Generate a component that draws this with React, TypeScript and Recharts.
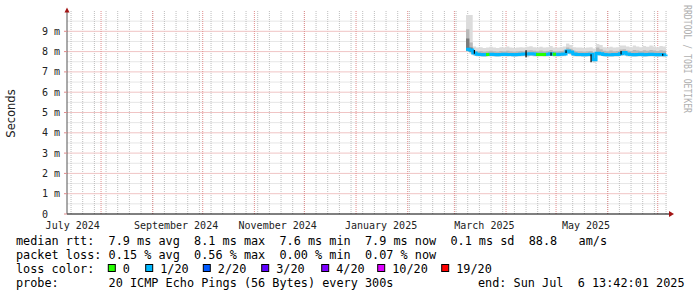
import React from "react";
import {
  ComposedChart,
  Area,
  Line,
  XAxis,
  YAxis,
  CartesianGrid,
  ReferenceLine,
  ReferenceDot,
} from "recharts";

// samples every 2 days (2025), smokeping year view
const dates = [
  "03-08", "03-10", "03-12", "03-14", "03-16", "03-18", "03-20", "03-22", "03-24", "03-26", "03-28", "03-30",
  "04-01", "04-03", "04-05", "04-07", "04-09", "04-11", "04-13", "04-15", "04-17", "04-19", "04-21", "04-23", "04-25", "04-27", "04-29",
  "05-01", "05-03", "05-05", "05-07", "05-09", "05-11", "05-13", "05-15", "05-17", "05-19", "05-21", "05-23", "05-25", "05-27", "05-29", "05-31",
  "06-02", "06-04", "06-06", "06-08", "06-10", "06-12", "06-14", "06-16", "06-18", "06-20", "06-22", "06-24", "06-26", "06-28", "06-30",
  "07-02", "07-04", "07-06",
];

// median rtt in ms
const median = [
  8.12, 8.08, 7.93, 7.87, 7.86, 7.85, 7.86, 7.87, 7.86, 7.85, 7.86, 7.87,
  7.86, 7.86, 7.85, 7.86, 7.87, 7.88, 7.88, 7.9, 7.88, 7.86, 7.87, 7.86, 7.87, 7.9, 7.87,
  7.86, 7.87, 7.88, 8.03, 7.98, 7.88, 7.86, 7.86, 7.85, 7.86, 7.87, 7.6, 7.92, 7.9, 7.86, 7.85,
  7.85, 7.86, 7.86, 7.9, 7.95, 7.88, 7.86, 7.85, 7.86, 7.87, 7.85, 7.86, 7.87, 7.86, 7.85,
  7.86, 7.84, 7.86,
];

// lost pings out of 20
const loss = [
  1, 1, 1, 1, 1, 1, 0, 1, 1, 1, 1, 1,
  1, 1, 1, 1, 1, 1, 1, 1, 1, 0, 1, 0, 1, 1, 0,
  1, 1, 1, 1, 1, 1, 1, 1, 1, 1, 1, 1, 1, 1, 1, 1,
  1, 1, 1, 1, 1, 1, 1, 1, 1, 1, 1, 1, 1, 1, 1,
  1, 1, 1,
];

// smoke: outer band (min/max ping) and mid band
const smokeHi = [
  9.8, 9.8, 8.25, 8.2, 8.22, 8.18, 8.2, 8.24, 8.2, 8.18, 8.22, 8.2,
  8.25, 8.2, 8.18, 8.2, 8.22, 8.2, 8.24, 8.26, 8.22, 8.2, 8.24, 8.2, 8.22, 8.28, 8.2,
  8.2, 8.22, 8.25, 8.4, 8.32, 8.22, 8.2, 8.2, 8.18, 8.2, 8.22, 8.15, 8.38, 8.32, 8.22, 8.2,
  8.24, 8.2, 8.22, 8.3, 8.3, 8.25, 8.22, 8.3, 8.25, 8.22, 8.28, 8.24, 8.3, 8.25, 8.22,
  8.28, 8.25, 8.26,
];
const smokeLo = [
  7.98, 7.9, 7.8, 7.76, 7.75, 7.74, 7.76, 7.76, 7.75, 7.74, 7.76, 7.76,
  7.75, 7.76, 7.74, 7.75, 7.76, 7.77, 7.72, 7.78, 7.76, 7.75, 7.76, 7.75, 7.76, 7.78, 7.75,
  7.75, 7.76, 7.77, 7.88, 7.84, 7.76, 7.75, 7.75, 7.74, 7.75, 7.76, 7.45, 7.8, 7.78, 7.75, 7.74,
  7.74, 7.75, 7.75, 7.78, 7.82, 7.76, 7.75, 7.74, 7.75, 7.76, 7.74, 7.75, 7.76, 7.75, 7.74,
  7.75, 7.72, 7.75,
];
const midHi = [
  9.1, 8.45, 8.05, 8.02, 8.03, 8.0, 8.02, 8.04, 8.02, 8.0, 8.03, 8.02,
  8.04, 8.02, 8.0, 8.02, 8.03, 8.02, 8.05, 8.07, 8.04, 8.02, 8.05, 8.02, 8.03, 8.08, 8.02,
  8.02, 8.03, 8.05, 8.2, 8.14, 8.04, 8.02, 8.02, 8.0, 8.02, 8.03, 7.95, 8.2, 8.12, 8.04, 8.02,
  8.05, 8.02, 8.03, 8.1, 8.12, 8.05, 8.03, 8.08, 8.05, 8.03, 8.07, 8.04, 8.08, 8.05, 8.03,
  8.07, 8.04, 8.05,
];
const midLo = [
  8.02, 7.95, 7.83, 7.8, 7.8, 7.79, 7.8, 7.8, 7.8, 7.79, 7.8, 7.8,
  7.8, 7.8, 7.79, 7.8, 7.8, 7.81, 7.8, 7.82, 7.8, 7.8, 7.8, 7.8, 7.8, 7.82, 7.8,
  7.8, 7.8, 7.81, 7.92, 7.88, 7.8, 7.8, 7.8, 7.79, 7.8, 7.8, 7.52, 7.84, 7.82, 7.8, 7.79,
  7.79, 7.8, 7.8, 7.82, 7.86, 7.8, 7.8, 7.79, 7.8, 7.8, 7.79, 7.8, 7.8, 7.8, 7.79,
  7.8, 7.78, 7.8,
];

// dark core of the start-up spike
const spikeCore = [
  { date: "03-08", lo: 8.05, hi: 8.65 },
  { date: "03-10", lo: 7.98, hi: 8.2 },
  { date: "03-12", lo: 7.98, hi: 8.2 },
];

// vertical black steps of the median
const jumps = [
  { date: "03-13", from: 8.08, to: 7.9 },
  { date: "04-13", from: 8.07, to: 7.72 },
  { date: "04-28", from: 7.95, to: 7.8 },
  { date: "05-07", from: 8.07, to: 7.93 },
  { date: "05-22", from: 7.87, to: 7.48 },
  { date: "06-09", from: 8.03, to: 7.86 },
  { date: "07-04", from: 7.9, to: 7.8 },
];

const monthLines = [
  "2024-08-01", "2024-09-01", "2024-10-01", "2024-11-01", "2024-12-01", "2025-01-01",
  "2025-02-01", "2025-03-01", "2025-04-01", "2025-05-01", "2025-06-01", "2025-07-01",
];
const xLabels = [
  { date: "2024-07-15", label: "July 2024" },
  { date: "2024-09-15", label: "September 2024" },
  { date: "2024-11-15", label: "November 2024" },
  { date: "2025-01-16", label: "January 2025" },
  { date: "2025-03-19", label: "March 2025" },
  { date: "2025-05-19", label: "May 2025" },
];
const yTicks = [0, 1, 2, 3, 4, 5, 6, 7, 8, 9];
const yMinor = [0.5, 1.5, 2.5, 3.5, 4.5, 5.5, 6.5, 7.5, 8.5, 9.5];

const lossLegend = [
  { label: "0", color: "#26ff00", x: 108.3 },
  { label: "1/20", color: "#00b8ff", x: 145.7 },
  { label: "2/20", color: "#0059ff", x: 203.3 },
  { label: "3/20", color: "#5e00ff", x: 261.7 },
  { label: "4/20", color: "#7e00ff", x: 321.7 },
  { label: "10/20", color: "#dd00ff", x: 377.7 },
  { label: "19/20", color: "#ff0000", x: 441.7 },
];

const ts = (s: string) => {
  const p = s.split("-").map(Number);
  return p.length === 2
    ? new Date(2025, p[0] - 1, p[1]).getTime()
    : new Date(p[0], p[1] - 1, p[2]).getTime();
};

const START = new Date(2024, 6, 11, 13, 42).getTime();
const END = new Date(2025, 6, 6, 13, 42).getTime();

const weekLines: number[] = [];
for (let d = new Date(2024, 6, 14); d.getTime() <= END; d.setDate(d.getDate() + 7)) {
  weekLines.push(d.getTime());
}

const rows = dates.map((d, i) => {
  const core = spikeCore.find((c) => c.date === d);
  return {
    t: ts(d),
    med: median[i],
    g: loss[i] === 0 ? median[i] : i > 0 && loss[i - 1] === 0 ? median[i - 1] : null,
    outer: [smokeLo[i], smokeHi[i]],
    mid: [midLo[i], midHi[i]],
    core: core ? [core.lo, core.hi] : null,
  };
});

const MONO = "DejaVu Sans Mono";
const GRID = "#bdbdbd";
const MGRID = "#e08c8c";
const PRE = { whiteSpace: "pre" } as const;

const YTick = ({ y, payload }: any) => (
  <text x={42} y={y + 3.5} fontFamily={MONO} fontSize={10} fill="#222" xmlSpace="preserve" style={PRE}>
    {payload.value === 0 ? "0" : `${payload.value} m`}
  </text>
);

const XTick = ({ x, payload }: any) => {
  const item = xLabels.find((l) => ts(l.date) === payload.value);
  return (
    <text x={x} y={228.5} textAnchor="middle" fontFamily={MONO} fontSize={10} fill="#222">
      {item ? item.label : ""}
    </text>
  );
};

const legendLine1 =
  "median rtt:  7.9 ms avg  8.1 ms max  7.6 ms min  7.9 ms now  0.1 ms sd  88.8   am/s";
const legendLine2 = "packet loss: 0.15 % avg  0.56 % max  0.00 % min  0.07 % now";
const probeLine = "probe:       20 ICMP Echo Pings (56 Bytes) every 300s";
const endLine = "end: Sun Jul  6 13:42:01 2025";

export default function App() {
  return (
    <div style={{ position: "absolute", left: 0, top: 0, width: 697, height: 297, background: "#fff" }}>
      <ComposedChart
        width={697}
        height={297}
        data={rows}
        margin={{ top: 11, right: 30, bottom: 67, left: 0 }}
      >
        {/* minor grid: weeks / half ms */}
        <CartesianGrid stroke="#e6e6e6" vertical={false} horizontalValues={yMinor} />
        <CartesianGrid
          stroke={GRID}
          strokeDasharray="1 1"
          horizontal={false}
          verticalValues={weekLines}
        />
        {/* major grid: months / whole ms */}
        <CartesianGrid stroke="#f0c4c4" vertical={false} horizontalValues={yTicks.slice(1)} />
        <CartesianGrid
          stroke={MGRID}
          strokeDasharray="1 1"
          horizontal={false}
          verticalValues={monthLines.map(ts)}
        />

        <XAxis
          dataKey="t"
          type="number"
          domain={[START, END]}
          ticks={xLabels.map((l) => ts(l.date))}
          tick={XTick}
          interval={0}
          tickLine={false}
          axisLine={{ stroke: "#000" }}
          height={16}
        />
        <YAxis
          type="number"
          domain={[0, 10]}
          ticks={yTicks}
          tick={YTick}
          interval={0}
          width={67}
          tickSize={3}
          tickLine={{ stroke: MGRID }}
          axisLine={{ stroke: "#555" }}
        />

        <Area
          dataKey="outer"
          type="stepAfter"
          stroke="none"
          fill="#dcdcdc"
          fillOpacity={1}
          isAnimationActive={false}
        />
        <Area
          dataKey="mid"
          type="stepAfter"
          stroke="none"
          fill="#b8b8b8"
          fillOpacity={1}
          isAnimationActive={false}
        />
        <Area
          dataKey="core"
          type="stepAfter"
          stroke="none"
          fill="#7a7a7a"
          fillOpacity={1}
          isAnimationActive={false}
        />
        <Line
          dataKey="med"
          type="stepAfter"
          stroke="#00b8ff"
          strokeWidth={3}
          dot={false}
          isAnimationActive={false}
        />
        <Line
          dataKey="g"
          type="stepAfter"
          stroke="#26ff00"
          strokeWidth={3}
          dot={false}
          connectNulls={false}
          isAnimationActive={false}
        />
        {jumps.map((j) => (
          <ReferenceLine
            key={"j" + j.date}
            segment={[
              { x: ts(j.date), y: j.from },
              { x: ts(j.date), y: j.to },
            ]}
            stroke="#000"
            strokeWidth={1.2}
          />
        ))}

        <ReferenceDot
          x={END}
          y={0}
          r={0}
          ifOverflow="visible"
          shape={(p: any) => (
            <g>
              <line x1={p.cx} y1={p.cy} x2={p.cx + 3} y2={p.cy} stroke="#000" />
              <path
                d={`M${p.cx + 2},${p.cy - 3} L${p.cx + 7},${p.cy} L${p.cx + 2},${p.cy + 3} Z`}
                fill="#a31515"
              />
            </g>
          )}
        />
        <ReferenceDot
          x={START}
          y={10}
          r={0}
          ifOverflow="visible"
          shape={(p: any) => (
            <path
              d={`M${p.cx - 2.5},${p.cy + 1.5} L${p.cx},${p.cy - 3.5} L${p.cx + 2.5},${p.cy + 1.5} Z`}
              fill="#a31515"
            />
          )}
        />
      </ComposedChart>

      <svg
        width={697}
        height={297}
        style={{ position: "absolute", left: 0, top: 0, pointerEvents: "none" }}
      >
        <text
          transform="translate(15,113.5) rotate(-90)"
          textAnchor="middle"
          fontFamily="DejaVu Sans"
          fontSize={11.5}
          fill="#222"
        >
          Seconds
        </text>
        <text
          transform="translate(683.5,5) rotate(90)"
          fontFamily={MONO}
          fontSize={11}
          fill="#b0b0b0"
          textLength={108}
          lengthAdjust="spacingAndGlyphs"
        >
          RRDTOOL / TOBI OETIKER
        </text>

        <g fontFamily={MONO} fontSize={11.83} fill="#000">
          <text x={16} y={244.7} xmlSpace="preserve" style={PRE}>{legendLine1}</text>
          <text x={16} y={258.7} xmlSpace="preserve" style={PRE}>{legendLine2}</text>
          <text x={16} y={272.7}>loss color:</text>
          {lossLegend.map((l) => (
            <g key={l.label}>
              <rect x={l.x} y={264.5} width={7} height={7} fill={l.color} stroke="#000" strokeWidth={1} />
              <text x={l.x + 14.5} y={272.7}>{l.label}</text>
            </g>
          ))}
          <text x={16} y={286.7} xmlSpace="preserve" style={PRE}>{probeLine}</text>
          <text x={478} y={286.7} xmlSpace="preserve" style={PRE}>{endLine}</text>
        </g>
      </svg>
    </div>
  );
}
